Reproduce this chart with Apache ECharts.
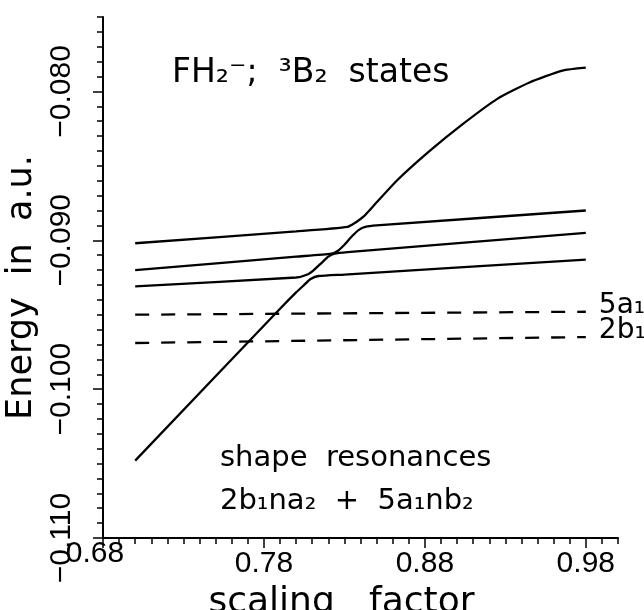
<!DOCTYPE html>
<html><head><meta charset="utf-8">
<script src="https://cdn.jsdelivr.net/npm/echarts@6/dist/echarts.min.js"></script>
<style>html,body{margin:0;padding:0;background:#fff}#c{width:644px;height:610px}</style>
</head><body><div id="c"></div>
<script>
// ---- data ----
const xMajorTicks = [0.68, 0.78, 0.88, 0.98];
const yMajorTicks = [-0.110, -0.100, -0.090, -0.080];

// adiabatic solid curves (lowest to highest)
const curveA = [[0.700,-0.1048],[0.790,-0.0946],[0.800,-0.0935],[0.805,-0.0930],[0.809,-0.0926],[0.814,-0.0924],[0.830,-0.0923],[0.980,-0.0913]];
const curveB = [[0.700,-0.0931],[0.800,-0.0925],[0.807,-0.0923],[0.811,-0.0920],[0.816,-0.0915],[0.820,-0.0911],[0.824,-0.0909],[0.832,-0.0908],[0.980,-0.0895]];
const curveC = [[0.700,-0.0920],[0.800,-0.0911],[0.822,-0.0909],[0.826,-0.0907],[0.830,-0.0903],[0.835,-0.0897],[0.839,-0.0893],[0.843,-0.0891],[0.850,-0.0890],[0.980,-0.0880]];
const curveD = [[0.700,-0.0902],[0.800,-0.0894],[0.832,-0.0891],[0.837,-0.0888],[0.842,-0.0884],[0.848,-0.0877],[0.8625,-0.0860],[0.883,-0.0840],[0.9035,-0.0822],[0.925,-0.0805],[0.945,-0.0794],[0.9655,-0.0786],[0.980,-0.0784]];

// dashed orbital levels
const level5a1 = [[0.70,-0.0950],[0.98,-0.0948]];
const level2b1 = [[0.70,-0.0969],[0.98,-0.0965]];
const levelNames = ['5a₁', '2b₁'];

const titleText = 'FH₂⁻;  ³B₂  states';
const noteLine1 = 'shape  resonances';
const noteLine2 = '2b₁na₂  +  5a₁nb₂';
const xName = 'scaling   factor';
const yName = 'Energy  in  a.u.';

// ---- chart ----
const chart = echarts.init(document.getElementById('c'), null, {renderer:'canvas'});
const black = '#000';
const solid = (d) => ({type:'line', data:d, showSymbol:false, smooth:0.2,
  lineStyle:{color:black, width:2.3}, xAxisIndex:0, yAxisIndex:0, silent:true});
const dashed = (d, name) => ({type:'line', name:name, data:d, showSymbol:false,
  lineStyle:{color:black, width:2.3, type:[14,12]}, xAxisIndex:0, yAxisIndex:0, silent:true,
  endLabel:{show:true, formatter:'{a}', color:black, fontFamily:'DejaVu Sans', fontSize:28, distance:13, offset:[0,-6]}});
const labelFont = {fontFamily:'Liberation Sans', fontSize:30, color:black};

chart.setOption({
  animation:false,
  backgroundColor:'#fff',
  grid:{left:103, right:26, top:17, bottom:72, containLabel:false, outerBoundsMode:'none'},
  xAxis:[
    {type:'value', min:0.68, max:1.0, interval:0.01, position:'bottom',
     axisLine:{show:true, onZero:false, lineStyle:{color:black, width:2}},
     axisTick:{show:true, length:6, lineStyle:{color:black, width:1.5}},
     axisLabel:{show:false}, splitLine:{show:false}},
    {type:'value', min:0.68, max:1.0, position:'bottom',
     axisLine:{show:false, onZero:false},
     axisTick:{show:true, length:10, customValues:xMajorTicks, lineStyle:{color:black, width:1.5}},
     axisLabel:Object.assign({show:true, customValues:xMajorTicks.slice(1), formatter:(v)=>v.toFixed(2), margin:11}, labelFont),
     splitLine:{show:false},
     name:xName, nameLocation:'middle', nameGap:47,
     nameTextStyle:{fontFamily:'DejaVu Sans', fontSize:36, color:black, padding:[0,38,0,0]}},
    {type:'value', min:0.68, max:1.0, position:'bottom',
     axisLine:{show:false, onZero:false}, axisTick:{show:false},
     axisLabel:Object.assign({show:true, customValues:xMajorTicks.slice(0,1), formatter:(v)=>v.toFixed(2), margin:1, padding:[0,16,0,0]}, labelFont),
     splitLine:{show:false}}
  ],
  yAxis:[
    {type:'value', min:-0.110, max:-0.075, interval:0.001, position:'left',
     axisLine:{show:true, onZero:false, lineStyle:{color:black, width:2}},
     axisTick:{show:true, length:6, lineStyle:{color:black, width:1.5}},
     axisLabel:{show:false}, splitLine:{show:false}},
    {type:'value', min:-0.110, max:-0.075, position:'left',
     axisLine:{show:false, onZero:false},
     axisTick:{show:true, length:10, customValues:yMajorTicks, lineStyle:{color:black, width:1.5}},
     axisLabel:Object.assign({show:true, customValues:yMajorTicks, rotate:90,
       formatter:(v)=>'−' + Math.abs(v).toFixed(3), margin:26}, labelFont),
     splitLine:{show:false},
     name:yName, nameLocation:'middle', nameGap:49,
     nameTextStyle:{fontFamily:'DejaVu Sans', fontSize:35, color:black, padding:[0,20,0,0]}}
  ],
  series:[
    solid(curveA), solid(curveB), solid(curveC), solid(curveD),
    dashed(level5a1, levelNames[0]), dashed(level2b1, levelNames[1])
  ],
  graphic:[
    {type:'text', x:172, y:73.5, silent:true,
     style:{text:titleText, fill:black, fontFamily:'DejaVu Sans', fontSize:33, verticalAlign:'middle', align:'left'}},
    {type:'text', x:220, y:458, silent:true,
     style:{text:noteLine1, fill:black, fontFamily:'DejaVu Sans', fontSize:29, verticalAlign:'middle', align:'left'}},
    {type:'text', x:220, y:501, silent:true,
     style:{text:noteLine2, fill:black, fontFamily:'DejaVu Sans', fontSize:29, verticalAlign:'middle', align:'left'}}
  ]
});
</script>
</body></html>
